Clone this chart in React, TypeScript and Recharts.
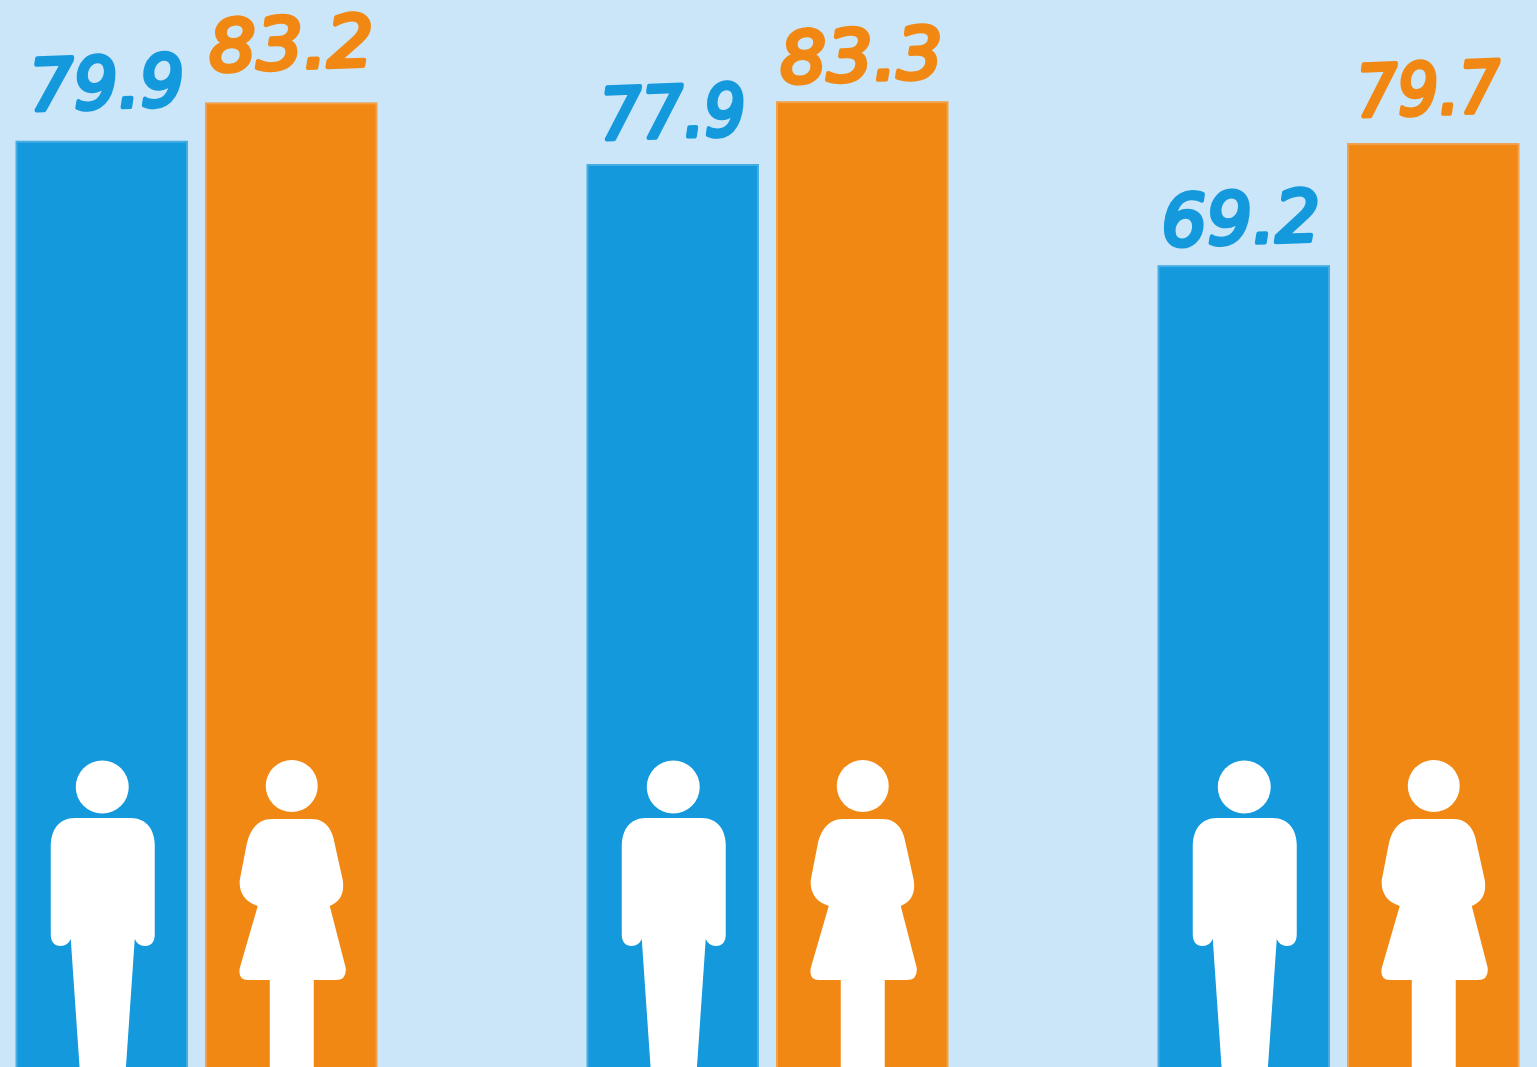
import { BarChart, Bar, XAxis, YAxis, LabelList } from 'recharts'

const groups = ['A', 'B', 'C']
const maleValues = [79.9, 77.9, 69.2]
const femaleValues = [83.2, 83.3, 79.7]

// hand lettered figures don't sit at a constant height over the bars
const maleLift = [33, 27, 22]
const femaleLift = [34, 21, 29]
const maleShift = [6, 1, -2]
const femaleShift = [1, 0, -4]
const maleWidth = [155, 146, 159]
const femaleWidth = [165, 163, 144]

const BLUE = '#1499dd'
const ORANGE = '#f18813'

const data = groups.map((g, i) => ({
  group: g,
  male: maleValues[i],
  female: femaleValues[i],
}))

function MaleBar(props: any) {
  const { x, y, width, height } = props
  const c = x + width / 2 + 1
  const b = y + height
  return (
    <g>
      <rect x={x + 1} y={y + 1} width={width - 2} height={height} fill={BLUE} stroke="#46ace4" strokeWidth={2} />
      <circle cx={c - 0.5} cy={b - 283} r={26.5} fill="#fff" />
      <path
        fill="#fff"
        d={`M${c - 28} ${b - 252} H${c + 28}
        C${c + 44} ${b - 252} ${c + 52} ${b - 240} ${c + 52} ${b - 224}
        V${b - 136} Q${c + 52} ${b - 124} ${c + 42} ${b - 124}
        Q${c + 35} ${b - 124} ${c + 32} ${b - 131}
        L${c + 23} ${b} H${c - 23} L${c - 32} ${b - 131}
        Q${c - 35} ${b - 124} ${c - 42} ${b - 124}
        Q${c - 52} ${b - 124} ${c - 52} ${b - 136}
        V${b - 224} C${c - 52} ${b - 240} ${c - 44} ${b - 252} ${c - 28} ${b - 252} Z`}
      />
    </g>
  )
}

function FemaleBar(props: any) {
  const { x, y, width, height } = props
  const c = x + width / 2 + 0.5
  const b = y + height
  return (
    <g>
      <rect x={x + 1} y={y + 1} width={width - 2} height={height} fill={ORANGE} stroke="#f2a04a" strokeWidth={2} />
      <circle cx={c} cy={b - 284} r={26} fill="#fff" />
      <path
        fill="#fff"
        d={`M${c - 20} ${b - 251} H${c + 20}
        C${c + 34} ${b - 251} ${c + 41} ${b - 240} ${c + 43} ${b - 226}
        L${c + 51} ${b - 190}
        C${c + 53} ${b - 176} ${c + 48} ${b - 168} ${c + 38} ${b - 164}
        L${c + 54} ${b - 102}
        Q${c + 55} ${b - 90} ${c + 44} ${b - 90}
        H${c + 22} V${b} H${c - 22} V${b - 90} H${c - 44}
        Q${c - 54} ${b - 90} ${c - 52} ${b - 102}
        L${c - 34} ${b - 164}
        C${c - 46} ${b - 168} ${c - 53} ${b - 176} ${c - 52} ${b - 190}
        L${c - 45} ${b - 226}
        C${c - 42} ${b - 240} ${c - 34} ${b - 251} ${c - 20} ${b - 251} Z`}
      />
    </g>
  )
}

function FigureLabel(props: any) {
  const { x, y, width, value, index, color, lift, shift, widths } = props
  const px = x + width / 2 + shift[index]
  const py = y - lift[index]
  return (
    <text
      x={px}
      y={py}
      textAnchor="middle"
      textLength={widths[index]}
      lengthAdjust="spacingAndGlyphs"
      fill={color}
      stroke={color}
      strokeWidth={4.5}
      strokeLinejoin="round"
      fontFamily="DejaVu Sans"
      fontStyle="oblique"
      fontWeight={400}
      fontSize={71}
      transform={`rotate(-2 ${px} ${py})`}
    >
      {value}
    </text>
  )
}

export default function App() {
  return (
    <div style={{ position: 'absolute', left: 0, top: 0, width: 1537, height: 1067, background: '#cbe6f9', overflow: 'hidden' }}>
      <BarChart
        width={1537}
        height={1067}
        data={data}
        barSize={172.5}
        barGap={17}
        margin={{ top: 0, right: -86.5, left: -89.5, bottom: -3 }}
      >
        <XAxis dataKey="group" hide />
        <YAxis hide domain={[0, 92]} />
        <Bar dataKey="male" isAnimationActive={false} shape={MaleBar}>
          <LabelList
            dataKey="male"
            content={(p: any) => <FigureLabel {...p} color={BLUE} lift={maleLift} shift={maleShift} widths={maleWidth} />}
          />
        </Bar>
        <Bar dataKey="female" isAnimationActive={false} shape={FemaleBar}>
          <LabelList
            dataKey="female"
            content={(p: any) => <FigureLabel {...p} color={ORANGE} lift={femaleLift} shift={femaleShift} widths={femaleWidth} />}
          />
        </Bar>
      </BarChart>
    </div>
  )
}
